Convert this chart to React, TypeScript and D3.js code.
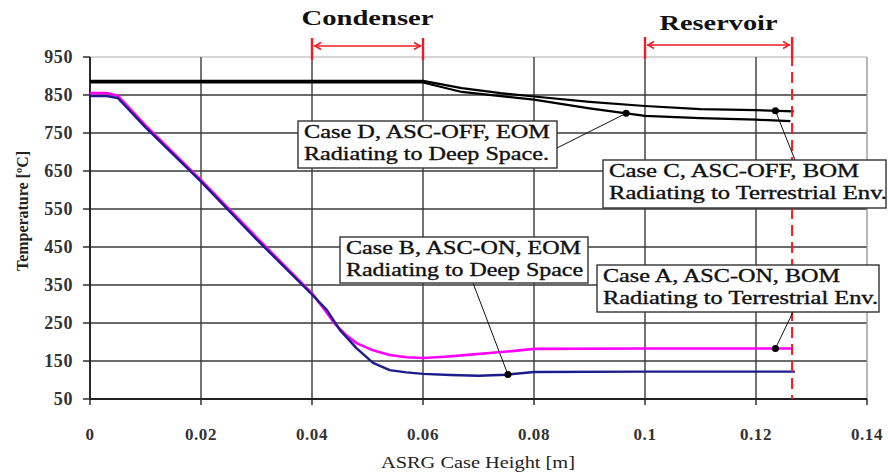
import * as d3 from "d3";

// ASRG case temperature profiles
const caseAX = [0, 0.003, 0.005, 0.01, 0.02, 0.03, 0.04, 0.042, 0.044, 0.046, 0.048, 0.051, 0.054, 0.057, 0.06, 0.064, 0.068, 0.072, 0.076, 0.08, 0.1, 0.1265];
const caseAT = [855, 855, 848, 770, 626, 475, 328, 290, 250, 220, 197, 178, 166, 160, 158, 161, 166, 171, 176, 182, 183, 183];

const caseBX = [0, 0.003, 0.005, 0.01, 0.02, 0.03, 0.04, 0.0427, 0.045, 0.048, 0.051, 0.054, 0.057, 0.06, 0.065, 0.07, 0.075, 0.08, 0.1, 0.127];
const caseBT = [847, 847, 842, 765, 622, 470, 325, 284, 232, 184, 145, 126, 120, 116, 113, 111, 114, 121, 122, 122];

const caseCX = [0, 0.06, 0.067, 0.074, 0.08, 0.09, 0.1, 0.11, 0.12, 0.1268];
const caseCT = [887, 887, 868, 855, 846, 832, 821, 813, 810, 807];

const caseDX = [0, 0.06, 0.067, 0.074, 0.08, 0.09, 0.1, 0.11, 0.12, 0.1262];
const caseDT = [883, 883, 858, 847, 838, 815, 795, 789, 785, 781];

const xTicks = [0, 0.02, 0.04, 0.06, 0.08, 0.1, 0.12, 0.14];
const xTickLabels = ["0", "0.02", "0.04", "0.06", "0.08", "0.1", "0.12", "0.14"];
const yTicks = [50, 150, 250, 350, 450, 550, 650, 750, 850, 950];

const condenser = [0.04, 0.06];
const reservoir = [0.1, 0.1265];

const W = 888, H = 475;
const FONT = "'Liberation Serif', 'Times New Roman', serif";

const x = d3.scaleLinear().domain([0, 0.14]).range([90, 867]);
const y = d3.scaleLinear().domain([50, 950]).range([399, 57]);

const series = [
  { key: "A", xs: caseAX, ts: caseAT, color: "#ff00ff", width: 2.6 },
  { key: "B", xs: caseBX, ts: caseBT, color: "#1c1c8a", width: 2.4 },
  { key: "C", xs: caseCX, ts: caseCT, color: "#000", width: 2.2 },
  { key: "D", xs: caseDX, ts: caseDT, color: "#000", width: 2.2 },
];

// callout boxes (pixel layout) and the point on the curve they point to
const notes = [
  { key: "D", at: 0.0966, box: [298, 121, 259, 47], lead: [557, 148], lines: ["Case D, ASC-OFF, EOM", "Radiating to Deep Space."], lens: [246, 245] },
  { key: "C", at: 0.1235, box: [603, 160, 283, 48], lead: [795, 160], lines: ["Case C, ASC-OFF, BOM", "Radiating to Terrestrial Env."], lens: [250, 278] },
  { key: "B", at: 0.0753, box: [340, 237, 248, 46], lead: [473, 283], lines: ["Case B, ASC-ON, EOM", "Radiating to Deep Space"], lens: [235, 237] },
  { key: "A", at: 0.1235, box: [597, 265, 282, 47], lead: [793, 312], lines: ["Case A, ASC-ON, BOM", "Radiating to Terrestrial Env."], lens: [237, 275] },
];

const line = d3.line<[number, number]>().x(d => x(d[0])).y(d => y(d[1]));

const Bracket = ({ range, label, ty, by, len }: { range: number[]; label: string; ty: number; by: number; len: number }) => {
  const x0 = x(range[0]), x1 = x(range[1]);
  const red = "#ee1c25";
  return (
    <g>
      <text x={(x0 + x1) / 2} y={ty} textAnchor="middle" fontFamily={FONT} fontWeight="bold" fontSize={22} fill="#111"
        textLength={len} lengthAdjust="spacingAndGlyphs">{label}</text>
      <line x1={x0} x2={x0} y1={by - 8} y2={by + 14} stroke={red} strokeWidth={2.4} />
      <line x1={x1} x2={x1} y1={by - 8} y2={by + 14} stroke={red} strokeWidth={2.4} />
      <line x1={x0 + 2} x2={x1 - 2} y1={by} y2={by} stroke={red} strokeWidth={1.6} />
      <path d={`M${x0 + 9},${by - 3.5} L${x0 + 3},${by} L${x0 + 9},${by + 3.5}`} fill="none" stroke={red} strokeWidth={1.5} />
      <path d={`M${x1 - 9},${by - 3.5} L${x1 - 3},${by} L${x1 - 9},${by + 3.5}`} fill="none" stroke={red} strokeWidth={1.5} />
    </g>
  );
};

export default function App() {
  const interp = (k: string) => {
    const s = series.find(d => d.key === k)!;
    return d3.scaleLinear().domain(s.xs).range(s.ts);
  };
  return (
    <svg width={W} height={H} style={{ position: "absolute", left: 0, top: 0, background: "#fff" }}>
      <rect width={W} height={H} fill="#fff" />
      {/* grid */}
      {yTicks.map(t => (
        <line key={"h" + t} x1={x(0)} x2={x(0.14)} y1={y(t)} y2={y(t)}
          stroke={t === 950 ? "#c8c8c8" : "#3a3a3a"} strokeWidth={t === 950 ? 1.5 : 1.4} />
      ))}
      {xTicks.map(t => (
        <line key={"v" + t} x1={x(t)} x2={x(t)} y1={y(950)} y2={y(50)}
          stroke={t === 0.14 ? "#9a9a9a" : "#3a3a3a"} strokeWidth={1.4} />
      ))}
      {/* axes */}
      <line x1={x(0)} x2={x(0)} y1={y(950)} y2={y(50)} stroke="#222" strokeWidth={1.8} />
      <line x1={x(0)} x2={x(0.14)} y1={y(50)} y2={y(50)} stroke="#222" strokeWidth={1.8} />
      {yTicks.map(t => (
        <g key={"yt" + t}>
          <line x1={x(0) - 7} x2={x(0)} y1={y(t)} y2={y(t)} stroke="#222" strokeWidth={1.4} />
          <text x={73} y={y(t) + 6} textAnchor="end" fontFamily={FONT} fontWeight="bold" fontSize={18} fill="#333" letterSpacing={0.6}>{t}</text>
        </g>
      ))}
      {xTicks.map((t, i) => (
        <g key={"xt" + t}>
          <line x1={x(t)} x2={x(t)} y1={y(50)} y2={y(50) + 6} stroke="#222" strokeWidth={1.4} />
          <text x={x(t)} y={440} textAnchor="middle" fontFamily={FONT} fontWeight="bold" fontSize={17} fill="#333" letterSpacing={0.6}>{xTickLabels[i]}</text>
        </g>
      ))}
      <text x={478} y={468} textAnchor="middle" fontFamily={FONT} fontSize={17} fill="#222" textLength={194} lengthAdjust="spacingAndGlyphs">ASRG Case Height [m]</text>
      <text transform="translate(28,211) rotate(-90)" textAnchor="middle" fontFamily={FONT} fontWeight="bold" fontSize={16} fill="#222" textLength={120} lengthAdjust="spacingAndGlyphs">Temperature [ºC]</text>

      {/* curves */}
      {series.map(s => (
        <path key={s.key} d={line(s.xs.map((v, i) => [v, s.ts[i]] as [number, number]))!}
          fill="none" stroke={s.color} strokeWidth={s.width} strokeLinejoin="round" />
      ))}

      {/* red annotations */}
      <line x1={x(reservoir[1])} x2={x(reservoir[1])} y1={38} y2={y(50)} stroke="#ee1c25" strokeWidth={2} strokeDasharray="11,6" />
      <Bracket range={condenser} label="Condenser" ty={25} by={46} len={132} />
      <Bracket range={reservoir} label="Reservoir" ty={30} by={45} len={118} />

      {/* callouts */}
      {notes.map(n => {
        const px = x(n.at), py = y(interp(n.key)(n.at));
        const [bx, by, bw, bh] = n.box;
        return (
          <g key={"n" + n.key}>
            <line x1={n.lead[0]} y1={n.lead[1]} x2={px} y2={py} stroke="#111" strokeWidth={1} />
            <rect x={bx} y={by} width={bw} height={bh} fill="#fff" stroke="#333" strokeWidth={1.4} />
            {n.lines.map((l, i) => (
              <text key={i} x={bx + 6} y={by + 17 + i * 22} fontFamily={FONT} fontSize={18} fill="#111"
                stroke="#111" strokeWidth={0.35}
                textLength={n.lens[i]} lengthAdjust="spacingAndGlyphs">{l}</text>
            ))}
            <circle cx={px} cy={py} r={3.5} fill="#000" />
          </g>
        );
      })}
    </svg>
  );
}
